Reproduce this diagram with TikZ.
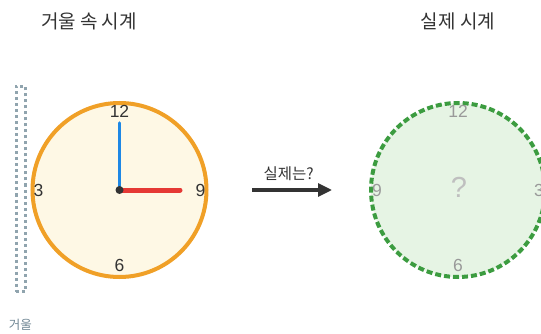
\documentclass[tikz,border=0pt]{standalone}
\usepackage{fontspec}
\setmainfont{Liberation Sans}
\newfontfamily\krfont{Noto Sans CJK KR}
\usetikzlibrary{arrows.meta,positioning}

\definecolor{clockorange}{HTML}{F0A027}
\definecolor{clockcream}{HTML}{FEF8E5}
\definecolor{realgreen}{HTML}{3C9C40}
\definecolor{realmint}{HTML}{E6F4E4}
\definecolor{mirrorgray}{HTML}{90A4AE}
\definecolor{labelgray}{HTML}{6E8593}
\definecolor{minuteblue}{HTML}{1E88E5}
\definecolor{hourred}{HTML}{E53935}
\definecolor{darkink}{HTML}{333333}

\begin{document}
\begin{tikzpicture}[x=1pt, y=-1pt,
	clockface/.style={circle, minimum size=174pt, inner sep=0pt, line width=4pt},
	clocknum/.style={font=\fontsize{17.5}{17.5}\selectfont, inner sep=0pt, text=darkink},
	ghostnum/.style={font=\fontsize{17.5}{17.5}\selectfont, inner sep=0pt, text=black!40},
	title/.style={font=\krfont\fontsize{19}{20}\selectfont, text=darkink},
	hubdot/.style={circle, fill=darkink, minimum size=8pt, inner sep=0pt}]
	
	% Canvas
	\useasboundingbox (0,0) rectangle (541,334);
	\clip (0,0) rectangle (541,334);
	
	% Titles
	\node[title] (mirrortitle) at (89,21) {거울 속 시계};
	\node[title] (realtitle) at (458,21) {실제 시계};
	
	% Mirror
	\node[draw=mirrorgray, line width=2.5pt, dash pattern=on 3pt off 3pt,
		minimum width=9pt, minimum height=205pt, inner sep=0pt] (mirror) at (20.8,189) {};
	\node[font=\krfont\fontsize{12.5}{12.5}\selectfont, text=labelgray] (mirrorlabel) at (20.5,325) {거울};
	
	% Clock in the mirror
	\node[clockface, draw=clockorange, fill=clockcream] (mirrorclock) at (119.5,190) {};
	\foreach \num/\dx/\dy in {12/0/-79, 3/-81/0, 9/81/0, 6/0/75} {
		\node[clocknum] (m\num) at ([shift={(\dx,\dy)}]mirrorclock.center) {\num};
	}
	\coordinate (minutetip) at (119.5,123);
	\coordinate (hourtip) at (180,190);
	\draw[line width=3.5pt, minuteblue, line cap=round] (mirrorclock.center) -- (minutetip);
	\draw[line width=5pt, hourred, line cap=round] (mirrorclock.center) -- (hourtip);
	\node[hubdot] (mirrorhub) at (mirrorclock.center) {};
	
	% Real clock
	\node[clockface, draw=realgreen, fill=realmint, dash pattern=on 6pt off 3pt] (realclock) at (458,190) {};
	\foreach \num/\dx/\dy in {12/0/-79, 9/-81/0, 3/81/0, 6/0/75} {
		\node[ghostnum] (r\num) at ([shift={(\dx,\dy)}]realclock.center) {\num};
	}
	\node[font=\fontsize{29}{29}\selectfont, text=black!25, inner sep=0pt] (question) at (459,187) {?};
	
	% Arrow
	\draw[-{Triangle[length=14pt, width=13pt]}, line width=3.2pt, darkink,
		shorten <=43.5pt, shorten >=37pt] (mirrorclock) -- (realclock)
		node[midway, above=4pt, font=\krfont\fontsize{15.5}{16}\selectfont, text=darkink] (arrowlabel) {실제는?};
\end{tikzpicture}
\end{document}
